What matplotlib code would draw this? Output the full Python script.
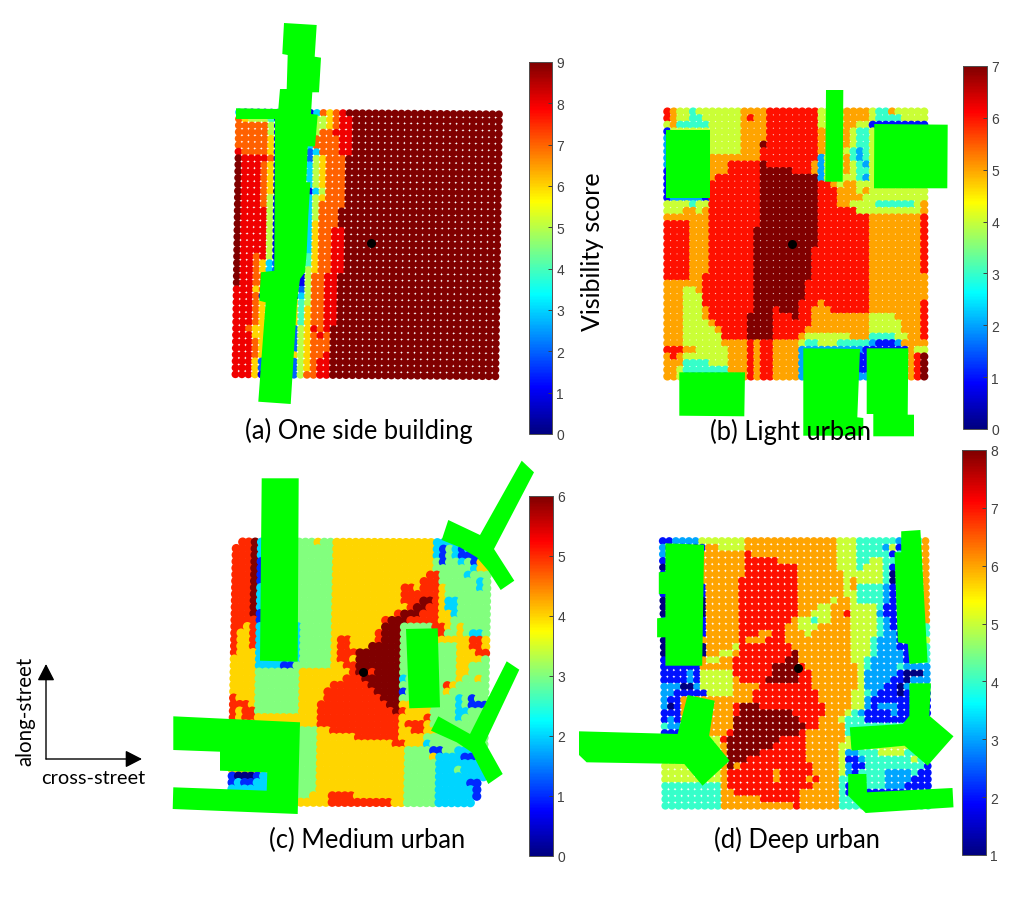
import numpy as np
import matplotlib
matplotlib.use("Agg")
import matplotlib.pyplot as plt
from matplotlib.cm import ScalarMappable
from matplotlib.colors import Normalize, LinearSegmentedColormap
from matplotlib.patches import Polygon, FancyArrowPatch

W, H = 1024, 903
GREEN = "#00ff00"
TXT = "Lato"

# MATLAB's jet differs a little from matplotlib's (golder yellows, redder oranges)
JET = LinearSegmentedColormap("matlab_jet", {
    "red":   [(0, 0, 0), (0.375, 0, 0), (0.625, 1, 1), (0.875, 1, 1), (1, 0.5, 0.5)],
    "green": [(0, 0, 0), (0.125, 0, 0), (0.375, 1, 1), (0.625, 1, 1), (0.875, 0, 0), (1, 0, 0)],
    "blue":  [(0, 0.5, 0.5), (0.125, 1, 1), (0.375, 1, 1), (0.625, 0, 0), (1, 0, 0)],
}, N=256)

# Each row lists "first_column:score" runs across the 41 grid columns ('.' = no point)
scores_a = [
"0:3 1:1 11:1 12:3 13:7 14:6 15:7 16:8 17:9",
"0:7 1:6 2:5 5:4 6:1 12:5 14:6 15:7 16:8 18:9",
"0:7 5:5 6:1 12:5 14:6 15:7 16:8 18:9",
"0:7 5:5 6:1 11:3 12:5 13:7 15:8 18:9",
"0:7 5:6 6:1 11:3 12:7 16:8 18:9",
"0:7 5:6 6:1 11:3 12:7 16:8 18:9",
"0:8 1:7 5:6 6:1 11:2 12:3 13:7 16:8 18:9",
"0:9 1:8 5:7 6:1 11:2 12:5 13:6 14:7 17:9",
"0:9 1:8 4:7 5:6 6:1 11:3 12:5 13:6 14:7 17:9",
"0:9 1:8 4:7 5:6 6:1 11:3 12:5 13:6 14:7 17:9",
"0:9 1:8 4:7 5:6 6:1 11:3 12:5 13:6 14:7 17:9",
"0:9 1:8 4:7 5:6 6:1 11:3 12:5 13:6 14:7 17:9",
"0:9 1:8 4:7 5:6 6:0 11:1 12:3 13:5 14:7 17:9",
"0:9 1:8 4:7 5:5 6:1 11:3 12:5 13:6 14:7 17:9",
"0:9 1:8 4:7 5:5 6:1 11:3 12:5 13:7 17:9",
"0:9 1:8 5:5 6:1 11:3 12:5 13:7 16:9",
"0:9 1:8 5:5 6:1 11:3 12:5 13:7 16:9",
"0:9 1:8 5:5 6:1 11:3 12:6 13:7 16:9",
"0:9 1:8 5:5 6:1 11:3 12:6 13:7 15:8 17:9",
"0:9 1:8 5:5 6:1 11:3 12:6 13:7 15:8 17:9",
"0:9 1:8 5:5 6:1 11:3 12:6 13:7 15:8 17:9",
"0:9 1:8 5:5 6:1 11:3 12:6 13:7 15:8 17:9",
"0:9 1:8 3:7 4:8 5:5 6:1 11:4 12:6 13:7 15:8 17:9",
"0:9 1:8 3:7 4:6 5:3 6:2 11:4 12:6 13:7 15:8 17:9",
"0:9 1:8 3:7 4:6 5:3 6:2 10:1 11:5 12:6 13:7 15:8 17:9",
"0:9 1:8 3:7 5:2 10:1 11:5 12:7 14:8 16:9",
"0:9 1:8 3:7 5:2 10:1 11:5 12:7 14:8 16:9",
"0:8 3:6 4:7 5:2 10:2 11:5 12:7 14:8 16:9",
"0:8 3:7 4:1 10:3 11:5 12:7 14:8 16:9",
"0:8 3:7 4:6 10:4 11:5 12:7 14:8 16:9",
"0:8 3:7 4:6 10:4 11:6 12:7 14:8 16:9",
"0:8 3:7 4:6 10:4 11:6 12:7 14:8 16:9",
"0:8 3:7 4:6 10:4 11:6 12:7 14:8 16:9",
"0:8 2:7 3:6 5:2 10:5 11:6 12:8 13:7 14:8 15:9",
"0:8 3:6 5:2 10:5 11:6 12:7 13:8 14:7 15:9",
"0:8 3:7 4:6 5:2 10:5 11:6 12:7 15:9",
"0:8 3:7 4:6 5:2 10:5 11:6 12:7 15:9",
"0:8 3:7 4:6 10:5 11:6 12:7 14:8 15:9",
"0:8 3:6 4:2 10:5 11:6 12:7 13:8 15:9",
"0:8 3:6 4:2 10:5 11:6 12:7 13:8 15:9",
"0:8 3:6 4:1 9:2 10:5 11:7 13:8 15:9",
]
scores_b = [
"0:6 1:5 2:4 4:3 5:4 12:5 16:6 24:4 28:5 32:4 33:3 35:5 36:4",
"0:6 1:5 2:4 4:3 6:4 12:5 13:6 14:5 16:6 24:4 28:5 32:4 33:3 37:4",
"0:4 1:5 2:3 7:4 12:5 16:6 24:4 28:5 30:4 32:1 38:1",
"0:1 1:4 7:4 12:5 16:6 24:5 28:5 29:4 30:3 32:4",
"0:2 1:4 7:4 12:5 16:6 24:5 28:5 29:4 30:3 32:4",
"0:2 1:4 7:4 12:5 15:7 16:6 24:5 28:5 29:4 30:3 32:4",
"0:2 1:4 7:4 12:5 15:6 24:5 28:4 29:3 30:2 31:3 32:4",
"0:2 1:4 7:5 15:6 24:2 25:4 28:5 29:3 30:2 31:3 32:4",
"0:2 1:4 7:5 10:6 15:7 16:6 23:5 24:2 25:4 28:5 29:4 30:3 31:2 32:4",
"0:1 1:4 7:5 10:6 15:7 20:6 23:5 24:2 25:4 28:5 29:4 30:3 32:4",
"0:1 1:4 7:5 8:6 15:7 24:2 25:4 29:4 30:3 31:2 32:4",
"0:1 1:4 7:6 15:7 24:6 26:5 27:4 28:5 30:4",
"0:1 1:4 7:6 15:7 24:6 27:5 30:4 31:5 32:4",
"0:1 1:2 6:1 7:6 15:7 24:6 27:5 30:5 31:4",
"0:4 4:3 5:4 7:6 15:7 24:6 27:5 29:4 33:3 39:4 40:5",
"0:4 3:5 5:4 6:5 7:6 15:7 24:6 30:4 40:5",
"0:5 7:6 15:7 24:6 32:5 40:6",
"0:6 4:5 7:6 15:7 24:6 32:5 40:6",
"0:6 4:5 7:6 14:7 24:6 32:5 40:6",
"0:6 4:5 7:6 14:7 24:6 32:5 40:6",
"0:6 4:5 7:6 14:7 24:6 32:5 40:6",
"0:6 4:5 7:6 14:7 23:6 32:5 40:6",
"0:6 4:5 7:6 14:7 23:6 32:5 40:6",
"0:6 4:5 7:6 14:7 23:6 32:5 40:6",
"0:6 4:5 7:6 14:7 23:6 32:5 40:6",
"0:6 4:5 6:6 14:7 23:6 32:5",
"0:5 6:6 14:7 22:6 32:5",
"0:5 3:4 5:5 6:6 14:7 22:6 32:5",
"0:5 3:4 6:6 14:7 22:6 32:5",
"0:5 3:4 6:6 14:7 21:6 24:5 25:6 32:5 40:6",
"0:5 3:4 6:5 7:6 14:7 17:6 18:7 21:6 23:5 26:6 32:5 40:6",
"0:5 3:4 6:5 7:6 13:7 17:6 20:7 21:6 23:5 32:4 36:5 40:6",
"0:5 3:4 7:5 8:6 13:7 17:6 23:5 32:4 37:5 40:6",
"0:5 3:4 8:5 9:6 13:7 17:6 22:5 32:4 37:5 40:6",
"0:5 3:4 9:6 13:7 17:6 21:5 22:4 29:5 32:3 36:4 38:5 40:6",
"0:5 3:4 9:5 13:6 14:5 15:6 17:5 21:4 22:3 24:4 27:3 32:2 33:1 36:2 37:5",
"0:6 3:5 5:4 10:5 13:6 14:5 15:6 17:5 21:2 30:2 31:1 38:5 39:4",
"0:5 1:6 2:5 3:4 10:5 13:6 14:5 15:6 17:5 21:2 30:1 38:5 39:6 40:7",
"0:5 3:3 7:4 10:5 13:6 14:5 15:6 17:5 21:2 30:1 38:5 39:6 40:7",
"0:5 2:4 3:3 10:5 13:6 14:5 15:6 17:5 21:2 30:1 38:5 39:6 40:7",
"0:5 2:4 3:2 10:5 13:6 14:5 15:6 17:5 21:2 30:2 38:5 39:6 40:7",
]
scores_c = [
"0:. 1:5 3:6 4:2 10:3 13:4 14:3 16:4 32:2",
"0:5 3:6 4:2 10:3 16:4 32:2 33:1 34:3 35:2 36:1 37:2",
"0:5 3:6 4:2 10:3 16:4 32:2 33:1 34:3 35:2 36:1",
"0:5 3:6 4:1 10:3 16:4 32:3 33:1 34:3 36:2 37:3 38:1 39:4",
"0:5 3:6 4:1 10:3 16:4 32:3 38:2 39:4",
"0:5 3:6 4:1 10:3 16:4 31:5 33:3 37:2 38:3",
"0:5 3:6 4:1 10:3 16:4 30:5 33:3 39:2 40:3",
"0:5 3:6 4:2 10:3 16:4 27:5 29:4 30:5 33:4 34:3 39:2 40:3",
"0:5 3:6 4:2 10:3 16:4 27:5 33:4 34:3",
"0:5 3:6 4:2 10:3 16:4 27:5 30:6 32:5 33:4 34:2 36:3",
"0:5 3:6 4:2 10:3 16:4 28:5 29:6 31:5 33:4 34:2 36:3",
"0:5 3:6 4:1 10:3 16:4 26:5 27:6 30:5 33:4 35:2 36:3",
"0:5 3:5 4:1 10:3 16:4 24:5 25:6 28:5 33:4 35:3",
"0:5 2:4 3:5 4:2 10:2 11:3 16:4 24:6 27:3 32:5 34:4 35:3 36:4 37:3",
"0:5 1:4 3:5 4:2 10:2 11:3 16:4 23:5 24:6 27:3 32:5 34:3 36:4 37:3 38:2 40:3",
"0:5 1:4 3:5 4:2 10:2 11:3 16:4 17:5 19:4 23:5 24:6 27:3 32:4 38:5 40:4",
"0:5 1:4 3:5 4:2 10:2 11:3 16:4 17:5 19:4 22:6 27:3 32:3 36:4 38:5 40:4",
"0:5 1:4 4:2 10:2 11:3 16:4 17:5 20:6 27:3 32:3 36:4 39:5",
"0:4 4:2 10:2 11:3 16:4 17:5 19:4 20:6 27:3 32:4 33:3 36:4 40:3",
"0:4 4:2 8:1 10:3 16:4 18:5 20:6 27:3 32:4 33:3 36:4 38:3",
"0:4 4:3 11:4 19:5 20:6 22:5 23:6 27:3 36:4 38:3",
"0:4 4:3 11:4 18:5 21:6 27:2 28:3 36:4 37:3 39:4 40:3",
"0:4 4:3 11:4 16:5 22:6 27:3 34:5 35:4 36:3",
"0:4 4:3 11:4 15:5 23:6 27:1 28:3 34:4 35:3",
"0:5 1:4 4:3 11:4 15:5 24:6 27:3 36:2 37:3 38:1 39:3",
"0:5 3:4 4:3 11:4 14:5 25:6 27:4 32:3 36:2 37:3 38:1",
"0:5 1:4 2:5 4:3 11:4 14:5 26:6 27:5 28:4 32:3 36:2 38:3",
"0:5 1:4 2:5 4:4 14:5 27:4 31:5 32:3 36:2 37:3",
"0:4 10:4 14:5 27:4 28:5 31:4 32:3",
"0:4 10:3 14:4 16:5 27:4 29:5 31:4 33:3",
"0:4 10:3 14:4 20:5 27:4 31:3",
"0:4 10:3 14:4 26:5 28:4 31:2 32:3",
"0:4 10:3 14:4 28:3 32:1 34:3 36:2",
"0:4 10:3 14:4 28:3 32:4 33:2 37:1",
"0:4 10:3 14:4 28:3 33:2",
"0:4 10:3 14:4 28:3 33:2 36:3 37:2",
"0:1 1:0 4:1 5:2 10:3 14:4 28:3 33:2",
"0:1 1:2 2:1 4:2 10:3 14:4 28:3 33:2 38:1 40:.",
"0:2 10:3 14:4 28:3 33:2 39:1 40:.",
"0:4 10:3 13:4 16:5 20:4 28:3 33:2 39:1 40:.",
"0:4 16:5 26:4 28:3 33:2 39:.",
]
scores_d = [
"0:2 2:3 6:5 13:6 27:5 30:4 36:3 37:4 40:6",
"0:3 1:2 7:6 9:5 13:6 27:5 30:4 34:3 35:5 36:2 37:4 39:6",
"0:3 1:2 6:6 13:7 14:6 27:5 30:4 35:2 36:4 39:6",
"0:2 6:6 13:7 18:6 27:5 30:4 32:5 34:4 39:6",
"0:1 1:2 6:6 13:7 21:6 27:5 30:4 31:5 34:4 35:2 36:4 39:6",
"0:2 6:6 13:7 21:6 28:5 34:4 35:1 36:4 39:6",
"0:2 6:6 12:7 21:6 28:5 29:6 30:5 34:4 35:1 36:2 37:4 39:6",
"0:2 7:6 12:7 21:6 28:5 29:6 30:4 34:3 35:2 36:1 37:4 39:6",
"0:2 7:6 12:7 21:6 28:5 30:4 34:3 35:2 37:4 39:6",
"0:1 7:6 12:7 21:6 26:5 27:6 29:5 30:4 34:3 35:2 37:4 39:6",
"0:1 7:6 12:7 21:6 24:5 26:6 29:5 33:4 34:2 37:4 39:6",
"0:1 7:6 12:7 21:6 23:5 26:6 28:7 29:5 33:3 34:2 37:4 39:6",
"0:2 7:6 12:7 20:6 21:5 23:4 24:5 26:6 29:5 33:4 34:3 35:2 37:4 39:6",
"0:2 7:6 12:7 19:6 21:5 24:6 29:5 33:4 34:3 35:2 37:4",
"0:2 7:6 12:7 15:6 17:7 19:6 22:5 23:6 29:5 33:4 34:3 36:2 37:4",
"0:1 6:6 12:7 13:6 16:7 19:6 29:5 32:4 33:3 36:2 38:4 40:5",
"0:1 7:6 11:5 12:7 20:6 29:5 32:4 33:3 36:2 38:4",
"0:1 7:6 9:5 11:6 12:7 20:8 21:6 29:5 32:4 33:3 37:2 39:4",
"0:2 6:6 7:5 9:6 11:7 19:8 21:6 29:5 31:4 32:3 37:2 39:4",
"0:2 6:6 11:7 17:8 21:7 22:6 30:5 31:4 32:3 36:4 37:3",
"0:2 4:3 5:2 6:5 11:7 17:8 21:7 23:6 30:5 31:3 36:2 37:1 40:3",
"0:2 4:3 5:2 6:5 11:6 12:7 16:8 21:7 23:6 30:5 31:3 35:2 37:1 38:3",
"0:3 3:1 5:3 6:5 11:6 15:7 23:6 30:5 31:3 34:2 36:1 37:3",
"0:3 2:2 7:5 11:6 14:7 24:6 29:5 31:4 32:3 33:2 36:1 37:2",
"0:3 1:2 3:6 14:7 24:6 29:5 31:3 32:2",
"0:3 1:1 2:2 3:6 11:7 12:8 15:7 25:6 29:5 31:3 32:2 33:3 36:2",
"0:2 3:6 11:7 12:8 20:7 25:6 28:5 29:4 30:3 31:2 35:3 36:2",
"0:2 1:3 2:2 3:6 11:8 21:7 24:6 27:5 28:4 31:2",
"0:4 1:3 3:6 11:8 22:7 24:6 28:4",
"0:2 3:6 10:7 11:8 21:7 22:6 28:4",
"0:5 9:7 10:8 18:7 22:6 28:5",
"0:5 9:6 10:8 17:7 22:6 27:5",
"0:5 9:6 10:8 15:7 22:6 27:5 28:3 30:4 33:5 37:4",
"0:5 9:6 10:8 13:7 22:6 27:5 28:2 30:3 31:4 38:5 39:4",
"0:5 9:6 10:8 11:6 12:7 23:6 27:5 28:3 29:2 31:4 40:2",
"0:5 9:6 10:7 17:6 18:7 23:6 27:5 28:3 29:2 30:4 34:3 38:4 39:2",
"0:5 9:6 10:7 17:6 18:7 22:6 23:7 24:6 27:4 34:3 38:2",
"0:4 9:6 10:7 23:6 27:4 28:2 31:4 34:3 37:2",
"0:4 9:6 11:7 21:6 27:4 28:2",
"0:4 9:6 15:7 21:6 27:4",
"0:4 9:6 20:7 21:6 27:4",
]

# Building footprints, picture pixels
buildings_a = [[(284,24),(316.7,26),(314.7,57.7),(321,58.7),(319,93.3),(312.3,93.3),(311,115),(317.7,115.7),(315,147.3),(307.7,147.3),(306.3,183.3),(310.3,183.3),(308.3,216.7),(306.7,253.3),(305,273.3),(300,280),(297,303.3),(290.7,405),(258.3,402.7),(262.3,348.3),(265.7,303.3),(259.3,301.7),(261,273.3),(274.3,271.7),(275,120),(236,120),(236,109.3),(278.3,110),(280,90),(286.7,90),(287.7,56),(282.3,55)]]
buildings_b = [[(666,130.7),(710,130.7),(710,199.3),(666,199.3)],
 [(826,91),(843.3,91),(842.7,182.7),(825.3,182.7)],
 [(874.3,125),(947.7,125.7),(947.3,189.3),(874,189.3)],
 [(679.3,373.3),(745,373.3),(744.3,417.3),(679.3,416.7)],
 [(803.3,349.3),(860,350),(857.3,418.3),(863.3,419),(863.3,436.7),(803.3,436.7)],
 [(866.7,349.3),(908.3,349.3),(907.7,415.7),(914,415.7),(914,437.3),(873.3,437.3),(873.3,415),(866.7,415)]]
buildings_c = [[(261.7,479.3),(298.7,479.3),(297.7,662.7),(260,661.7)],
 [(448.3,521),(480,536),(521.7,461.7),(534,473.3),(494,550),(514.3,581.7),(500.7,591),(488.3,571.7),(476.7,558.3),(460,548.3),(441.7,541)],
 [(406,630),(437.7,629.3),(440,708.3),(409.3,709.3)],
 [(506.7,662.3),(519.3,670.7),(485,743.3),(502.7,775),(488.3,785),(471.7,753.3),(456.7,743.3),(431,731.7),(438.3,717.3),(470,735)],
 [(173.3,717.3),(300,723.3),(297.7,815),(172.7,810),(173.3,788.3),(266.7,791.7),(267.3,773.3),(220,771.7),(220,752.7),(173.3,751)]]
buildings_d = [[(665.4,544.3),(704.1,545.7),(702.2,666.7),(665.4,666.7),(665.4,638.3),(657.1,638.3),(657.1,619.3),(665.4,618.3),(665.4,595),(658.8,595),(658.8,573.3),(665.4,572.7)],
 [(579,732.3),(677.6,735),(687.6,696),(714.7,701.7),(709.1,736.7),(729.6,761.7),(702.5,786.7),(684.3,765),(586.6,763.3),(579,756)],
 [(901.2,532.3),(920.4,531),(927.6,663.3),(909.4,665),(907.8,645),(897.9,643.3),(896.2,600),(894.5,553.3),(901.2,553.3)],
 [(909.4,684.3),(930.9,684.3),(929.3,716.7),(953.5,737.3),(927.6,766.7),(904.5,746.7),(851.5,751.7),(849.8,728.3),(902.8,725),(909.4,716.7)],
 [(848.2,775),(866.4,775),(867,793.3),(952.5,789),(953.5,808.3),(865.7,814),(848.2,796.7)]]

def decode(rows):
    grid = np.full((41, 41), np.nan)
    for r, row in enumerate(rows):
        runs = [p.split(":") for p in row.split()]
        for i, (start, val) in enumerate(runs):
            end = int(runs[i + 1][0]) if i + 1 < len(runs) else 41
            grid[r, int(start):end] = np.nan if val == "." else float(val)
    return grid

def add_px_axes(x0, y0, x1, y1):
    ax = fig.add_axes([x0 / W, 1 - y1 / H, (x1 - x0) / W, (y1 - y0) / H])
    return ax

panels = [
 dict(grid=scores_a, bld=buildings_a, box=(170, 20, 525, 440), o=(239.0, 113.3), d=(6.5, 6.55), sh=(-0.09, 0.05), s=31, vmin=0, vmax=9,
      tx=(529, 63, 552, 435), ticks=range(0, 10), dot=(371, 244), title="(a) One side building", tpos=(359, 431)),
 dict(grid=scores_b, bld=buildings_b, box=(640, 60, 955, 445), o=(667.4, 112.6), d=(6.42, 6.62), sh=(0, 0), s=36, vmin=0, vmax=7,
      tx=(963, 67, 987, 430), ticks=range(0, 8), dot=(792, 245), title="(b) Light urban", tpos=(790, 432)),
 dict(grid=scores_c, bld=buildings_c, box=(170, 460, 525, 860), o=(236.4, 543.0), d=(6.28, 6.5), sh=(-0.117, 0.02), s=43, vmin=0, vmax=6,
      tx=(529, 497, 553, 857), ticks=range(0, 7), dot=(363, 673), title="(c) Medium urban", tpos=(367, 840)),
 dict(grid=scores_d, bld=buildings_d, box=(575, 450, 958, 860), o=(662.7, 542.0), d=(6.57, 6.62), sh=(0.066, 0), s=31, vmin=1, vmax=8,
      tx=(962, 451, 986, 856), ticks=range(1, 9), dot=(798, 669), title="(d) Deep urban", tpos=(797, 840)),
]

fig = plt.figure(figsize=(W / 100, H / 100), dpi=100, facecolor="white")

for p in panels:
    x0, y0, x1, y1 = p["box"]
    ax = add_px_axes(x0, y0, x1, y1)
    ax.set_xlim(x0, x1)
    ax.set_ylim(y1, y0)
    ax.axis("off")
    g = decode(p["grid"])
    rr, cc = np.nonzero(~np.isnan(g))
    xs = p["o"][0] + p["d"][0] * cc + p["sh"][0] * rr
    ys = p["o"][1] + p["d"][1] * rr + p["sh"][1] * cc
    ax.scatter(xs, ys, c=g[rr, cc], cmap=JET, vmin=p["vmin"], vmax=p["vmax"], s=p["s"], linewidths=0, zorder=2)
    ax.scatter([p["dot"][0]], [p["dot"][1]], c="black", s=42, linewidths=0, zorder=3)
    for poly in p["bld"]:
        ax.add_patch(Polygon(poly, closed=True, facecolor=GREEN, edgecolor="none", zorder=4, clip_on=False))

    bx0, by0, bx1, by1 = p["tx"]
    cax = add_px_axes(bx0, by0, bx1, by1)
    cb = fig.colorbar(ScalarMappable(Normalize(p["vmin"], p["vmax"]), JET), cax=cax)
    cb.set_ticks(list(p["ticks"]))
    cax.tick_params(direction="in", length=3, width=0.7, color="#404040", labelcolor="#404040",
                    labelsize=10, pad=3)
    for lab in cax.get_yticklabels():
        lab.set_fontfamily("Liberation Sans")
    cb.outline.set_edgecolor("#505050")
    cb.outline.set_linewidth(0.7)
    fig.text(p["tpos"][0] / W, 1 - p["tpos"][1] / H, p["title"], ha="center", va="center",
             fontsize=18.4, family=TXT, color="black", zorder=10)

fig.text(592 / W, 1 - 252 / H, "Visibility score", rotation=90, ha="center", va="center",
         fontsize=18, family=TXT, color="black")
fig.text(93 / W, 1 - 778 / H, "cross-street", ha="center", va="center", fontsize=14.4, family=TXT, color="black")
fig.text(25 / W, 1 - 711 / H, "along-street", rotation=90, ha="center", va="center", fontsize=14.8, family=TXT, color="black")

overlay = fig.add_axes([0, 0, 1, 1], facecolor="none")
overlay.set_xlim(0, W)
overlay.set_ylim(H, 0)
overlay.axis("off")
for tip in [(46, 665), (142, 760)]:
    overlay.add_patch(FancyArrowPatch((46, 760), tip, arrowstyle="-|>,head_length=3.5,head_width=1.8",
                                      mutation_scale=2.9, color="black", lw=1.0, shrinkA=0, shrinkB=0))

fig.savefig("out.png", dpi=100, facecolor="white")
